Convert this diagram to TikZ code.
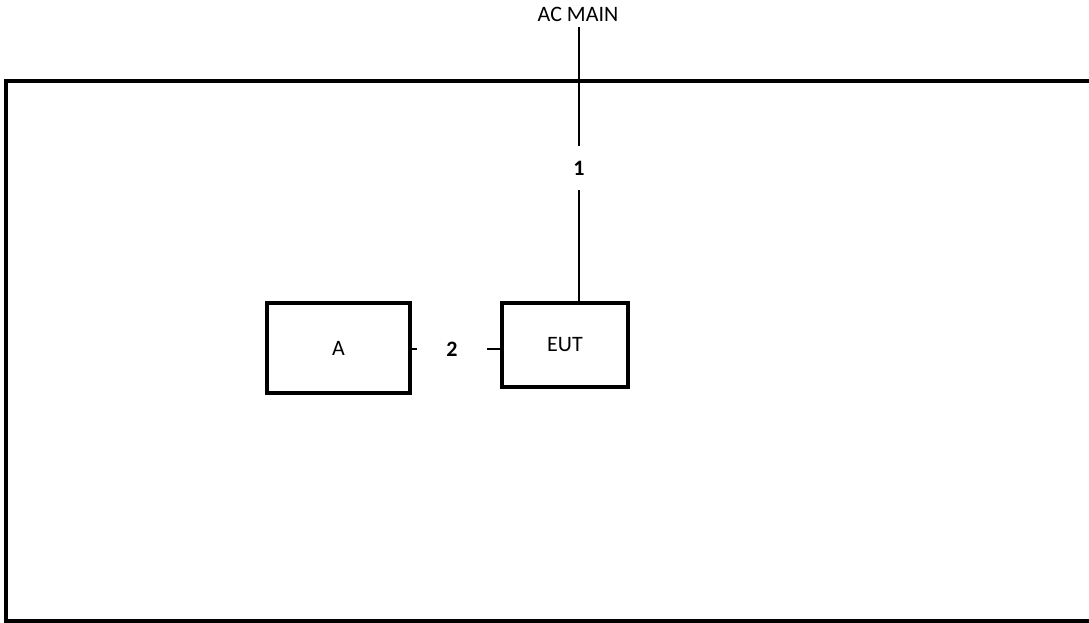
\documentclass[tikz,border=0pt]{standalone}
\usepackage{fontspec}
\setmainfont{Carlito}
\usepackage{tikz}
\usetikzlibrary{positioning}

\begin{document}
\begin{tikzpicture}[x=0.75pt,y=-0.75pt, font=\fontsize{16.5}{19}\selectfont,
box/.style={draw,line width=3pt,minimum width=#1,inner sep=0pt},
lbl/.style={inner sep=0pt,font=\fontsize{16.5}{19}\selectfont\bfseries},
wire/.style={line width=2pt}]
\useasboundingbox (0,0) rectangle (1089,623);
\clip (0,0) rectangle (1089,623);
\draw[line width=3pt] (1100,81) -- (6,81) -- (6,621) -- (1100,621);
\node[box=143*0.75pt,minimum height=90*0.75pt] (a) at (338.5,348) {A};
\node[box=126*0.75pt,minimum height=84*0.75pt] (eut) at (565,345) {EUT};
\node[inner sep=0pt] (acmain) at (578,14) {AC MAIN};
\node[lbl,inner ysep=11pt] (one) at (579,168) {1};
\node[lbl,inner xsep=22pt] (two) at (452,349) {2};
\draw[wire] (acmain.south) ++(0,6) coordinate (feed) (feed -| one) -- (one.north);
\draw[wire,line width=1.5pt] (one.south) -- (one.south |- eut.north);
\draw[wire] (a.east |- two) -- (two.west);
\draw[wire] (two.east) -- (two.east -| eut.west);
\end{tikzpicture}
\end{document}
